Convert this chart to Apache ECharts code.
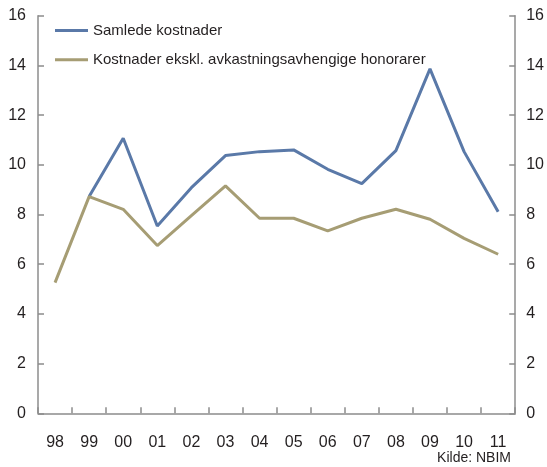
<!DOCTYPE html>
<html>
<head>
<meta charset="utf-8">
<script src="https://cdn.jsdelivr.net/npm/echarts@6/dist/echarts.min.js"></script>
<style>
  html, body { margin: 0; padding: 0; background: #fff; }
  #chart { width: 547px; height: 467px; }
</style>
</head>
<body>
<div id="chart"></div>
<script>
// Year labels along the x axis
const years = ['98', '99', '00', '01', '02', '03', '04', '05', '06', '07', '08', '09', '10', '11'];

// Total costs (first year has no value)
const samledeKostnader = [null, 8.72, 11.07, 7.54, 9.08, 10.37, 10.53, 10.6, 9.82, 9.24, 10.57, 13.86, 10.53, 8.11];

// Costs excluding performance-based fees
const eksklHonorarer = [5.26, 8.72, 8.21, 6.75, 7.95, 9.15, 7.85, 7.85, 7.34, 7.85, 8.21, 7.81, 7.04, 6.40];

const seriesNames = ['Samlede kostnader', 'Kostnader ekskl. avkastningsavhengige honorarer'];
const sourceText = 'Kilde: NBIM';

const FONT = '"Liberation Sans Narrow", "Liberation Sans", Arial, sans-serif';
const AXIS_COLOR = '#8c8c8c';
const TEXT_COLOR = '#231f20';
const BLUE = '#5a79a8';
const OLIVE = '#a69d74';

const chart = echarts.init(document.getElementById('chart'), null, { renderer: 'canvas' });

const valueAxis = (position, margin) => ({
  type: 'value',
  position: position,
  min: 0,
  max: 16,
  interval: 2,
  axisLine: { show: true, lineStyle: { color: AXIS_COLOR, width: 1.5 } },
  axisTick: { show: true, inside: true, length: 6, lineStyle: { color: AXIS_COLOR, width: 1.5 } },
  splitLine: { show: false },
  axisLabel: { color: TEXT_COLOR, fontFamily: FONT, fontSize: 16, margin: margin }
});

chart.setOption({
  animation: false,
  backgroundColor: '#fff',
  grid: { left: 38, right: 30, top: 15.7, bottom: 53.7, containLabel: false },
  legend: {
    orient: 'vertical',
    left: 55,
    top: 20.5,
    padding: 0,
    itemWidth: 33,
    itemHeight: 3,
    itemGap: 9.3,
    icon: 'rect',
    data: seriesNames,
    textStyle: { color: TEXT_COLOR, fontFamily: FONT, fontSize: 15, lineHeight: 20 }
  },
  xAxis: {
    type: 'category',
    data: years,
    boundaryGap: true,
    axisLine: { show: true, lineStyle: { color: AXIS_COLOR, width: 1.5 } },
    axisTick: { show: true, inside: true, length: 6, interval: 0, lineStyle: { color: AXIS_COLOR, width: 1.5 } },
    axisLabel: { color: TEXT_COLOR, fontFamily: FONT, fontSize: 16, margin: 21, interval: 0 }
  },
  yAxis: [valueAxis('left', 12), valueAxis('right', 11)],
  graphic: [{
    type: 'text',
    right: 36,
    top: 451,
    style: { text: sourceText, fill: TEXT_COLOR, font: '14px ' + FONT }
  }],
  series: [
    {
      name: seriesNames[0],
      type: 'line',
      data: samledeKostnader,
      symbol: 'none',
      lineStyle: { color: BLUE, width: 3 },
      itemStyle: { color: BLUE }
    },
    {
      name: seriesNames[1],
      type: 'line',
      data: eksklHonorarer,
      symbol: 'none',
      lineStyle: { color: OLIVE, width: 3 },
      itemStyle: { color: OLIVE }
    }
  ]
});
</script>
</body>
</html>
